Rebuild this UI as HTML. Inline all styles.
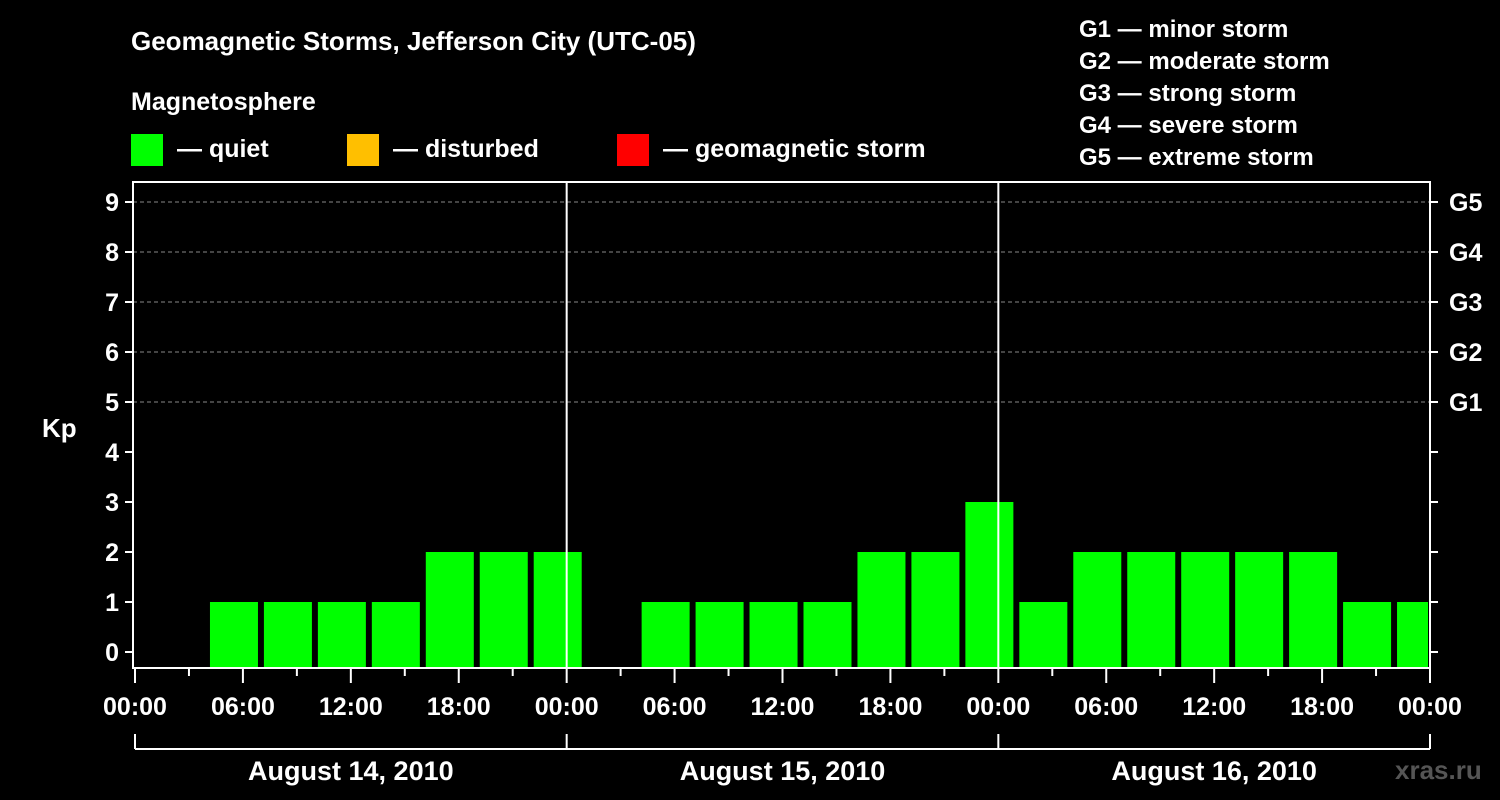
<!DOCTYPE html>
<html><head><meta charset="utf-8"><style>
body{margin:0;background:#000;}
svg{display:block;font-family:"Liberation Sans",sans-serif;font-weight:bold;}
</style></head><body>
<svg width="1500" height="800" viewBox="0 0 1500 800">
<rect width="1500" height="800" fill="#000"/>
<text x="131" y="50" fill="#fff" font-size="26">Geomagnetic Storms, Jefferson City (UTC-05)</text>
<text x="131" y="110" fill="#fff" font-size="25">Magnetosphere</text>
<g>
<rect x="131" y="134" width="32" height="32" fill="#00ff00"/>
<text x="177" y="157" fill="#fff" font-size="25">— quiet</text>
<rect x="347" y="134" width="32" height="32" fill="#ffbf00"/>
<text x="393" y="157" fill="#fff" font-size="25">— disturbed</text>
<rect x="617" y="134" width="32" height="32" fill="#ff0000"/>
<text x="663" y="157" fill="#fff" font-size="25">— geomagnetic storm</text>
</g>
<g fill="#fff" font-size="24">
<text x="1079" y="37">G1 — minor storm</text>
<text x="1079" y="69">G2 — moderate storm</text>
<text x="1079" y="101">G3 — strong storm</text>
<text x="1079" y="133">G4 — severe storm</text>
<text x="1079" y="165">G5 — extreme storm</text>
</g>
<text x="42" y="437" fill="#fff" font-size="26">Kp</text>
<g id="plot"></g>
<text x="1395" y="779" fill="#555" font-size="26">xras.ru</text>
</svg>
<script>
const kpValues = [null,1,1,1,1,2,2,2, null,1,1,1,1,2,2,3, 1,2,2,2,2,2,1,1];
const dayLabels = ["August 14, 2010","August 15, 2010","August 16, 2010"];
const hourLabels = ["00:00","06:00","12:00","18:00"];
const kpTicks = [0,1,2,3,4,5,6,7,8,9];
const gLabels = ["G1","G2","G3","G4","G5"];

const NS="http://www.w3.org/2000/svg";
const g=document.getElementById('plot');
const L=133,R=1430,T=182,B=668;
const yS=v=>652-50*v;
const xS=h=>135+h*(1295/72);
function mk(t,a,p){const e=document.createElementNS(NS,t);for(const k in a)e.setAttribute(k,a[k]);(p||g).appendChild(e);return e;}
// grid
kpTicks.forEach(v=>{
  if(v>=5){const l=mk('line',{x1:L,x2:R,y1:yS(v),y2:yS(v),stroke:'#888','stroke-dasharray':'4,3','stroke-width':1});
  
  }
  const t=mk('line',{x1:L-8,x2:L,y1:yS(v),y2:yS(v),stroke:'#fff','stroke-width':2});
  
  
  const t2=mk('line',{x1:R,x2:R+8,y1:yS(v),y2:yS(v),stroke:'#fff','stroke-width':2});
  
  
  const tx=mk('text',{x:L-14,y:yS(v)+9,fill:'#fff','font-size':25,'text-anchor':'end'});
  tx.textContent=v;
  
  
});
gLabels.forEach((s,i)=>{
  const tx=mk('text',{x:R+19,y:yS(5+i)+9,fill:'#fff','font-size':25});
  tx.textContent=s;
  
  
});
// bars
const slot=xS(3)-xS(0);
kpValues.forEach((v,i)=>{
  if(v===null)return;
  const x0=xS(i*3)+21, x1=Math.min(x0+48,R-2);
  const r=mk('rect',{x:x0,y:yS(v),width:x1-x0,height:B-yS(v),fill:'#00ff00'});
  
  
});
// day dividers
[1,2].forEach(d=>{
  const l=mk('line',{x1:xS(d*24),x2:xS(d*24),y1:T,y2:B,stroke:'#fff','stroke-width':2});
  
  
});
// frame
const f=mk('rect',{x:L,y:T,width:R-L,height:B-T,fill:'none',stroke:'#fff','stroke-width':2});


// x ticks
for(let h=0;h<=72;h+=3){
  const maj=h%6===0;
  const t=mk('line',{x1:xS(h),x2:xS(h),y1:B,y2:B+(maj?15:8),stroke:'#fff','stroke-width':2});
  
  
  if(maj){
    const tx=mk('text',{x:xS(h),y:715,fill:'#fff','font-size':25,'text-anchor':'middle'});
    tx.textContent=hourLabels[(h/6)%4];
    
    
  }
}
// day bracket
const bl=mk('line',{x1:xS(0),x2:xS(72),y1:749,y2:749,stroke:'#fff','stroke-width':2});


for(let d=0;d<=3;d++){
  const t=mk('line',{x1:xS(d*24),x2:xS(d*24),y1:734,y2:749,stroke:'#fff','stroke-width':2});
  
  
}
dayLabels.forEach((s,d)=>{
  const tx=mk('text',{x:xS(d*24+12),y:780,fill:'#fff','font-size':27,'text-anchor':'middle'});
  tx.textContent=s;
  
  
});
</script>
</body></html>
